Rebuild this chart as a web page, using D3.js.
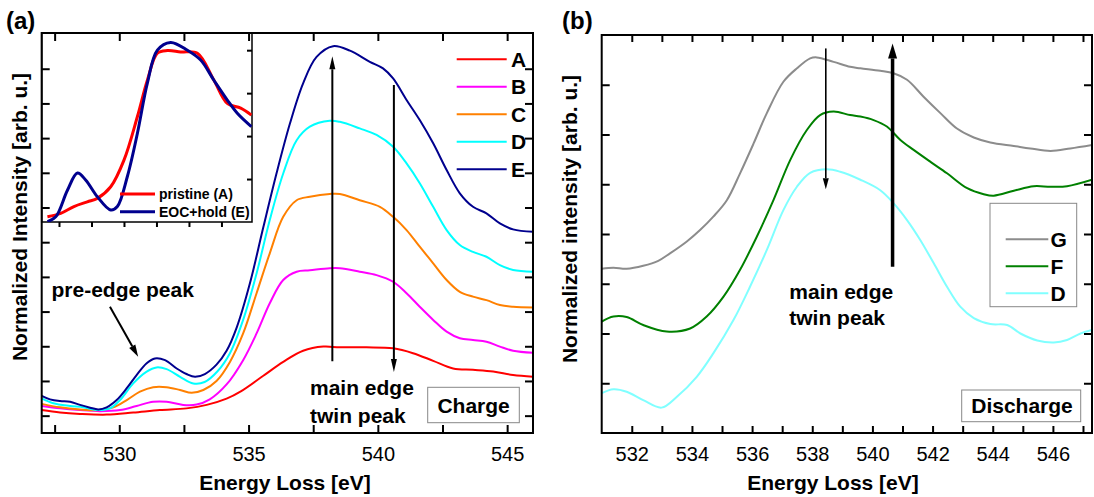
<!DOCTYPE html>
<html>
<head>
<meta charset="utf-8">
<script src="https://cdn.jsdelivr.net/npm/d3@7"></script>
<style>
  body { margin: 0; background: #fff; }
  text { font-family: "Liberation Sans", Arial, sans-serif; }
</style>
</head>
<body>
<svg id="chart" width="1094" height="497"></svg>
<script>
// ---- panel (a): charge series, [energy eV, intensity a.u.] ----
const chargeNames = ["A", "B", "C", "D", "E"];
const chargeColors = ["#ff0000", "#ff00ff", "#ff8000", "#00ffff", "#00008e"];

const curveA = [[527.0,0.66],[527.71,0.59],[528.48,0.55],[529.51,0.53],[530.54,0.59],[531.57,0.66],
  [532.6,0.71],[533.38,0.81],[534.15,0.99],[534.7,1.2],[535.57,1.65],[536.34,2.05],[537.11,2.37],
  [537.89,2.49],[538.53,2.47],[539.56,2.47],[540.59,2.44],[541.36,2.30],[542.14,2.08],[542.91,1.86],
  [543.68,1.82],[544.46,1.77],[545.23,1.67],[546.0,1.62]];
const curveB = [[527.0,0.78],[527.71,0.71],[528.48,0.66],[529.25,0.63],[530.03,0.66],[530.67,0.78],
  [531.31,0.90],[531.83,0.90],[532.47,0.81],[532.99,0.82],[533.5,0.97],[534.15,1.40],[534.79,2.10],
  [535.31,2.87],[535.82,3.74],[536.34,4.41],[536.86,4.65],[537.37,4.69],[538.14,4.75],[538.53,4.75],
  [539.3,4.65],[539.95,4.55],[540.59,4.36],[541.11,4.03],[541.62,3.64],[542.14,3.26],[542.66,2.92],
  [543.17,2.73],[543.68,2.68],[544.2,2.63],[544.72,2.49],[545.23,2.37],[546.0,2.31]];
const curveC = [[527.0,0.84],[527.71,0.74],[528.48,0.68],[529.25,0.66],[529.77,0.74],[530.29,0.95],
  [530.8,1.19],[531.31,1.32],[531.83,1.32],[532.35,1.24],[532.8,1.16],[533.25,1.24],[533.76,1.50],
  [534.28,2.05],[534.79,2.87],[535.31,4.03],[535.82,5.18],[536.34,6.23],[536.86,6.71],[537.37,6.81],
  [538.14,6.89],[538.53,6.89],[539.3,6.71],[540.08,6.52],[540.59,6.23],[541.11,5.85],[541.62,5.37],
  [542.14,4.89],[542.66,4.41],[543.17,4.07],[543.68,3.93],[544.2,3.83],[544.72,3.69],[545.23,3.64],
  [546.0,3.62]];
const curveD = [[527.0,1.00],[527.45,0.86],[528.1,0.78],[528.6,0.74],[529.19,0.66],[529.64,0.71],
  [530.03,0.95],[530.54,1.43],[531.06,1.77],[531.44,1.89],[531.83,1.84],[532.35,1.62],[532.86,1.43],
  [533.3,1.47],[533.8,1.78],[534.28,2.30],[534.79,3.26],[535.31,4.60],[535.82,6.14],[536.34,7.48],
  [536.86,8.44],[537.37,8.83],[538.14,9.0],[538.53,8.97],[539.3,8.78],[539.95,8.59],[540.59,8.25],
  [541.11,7.77],[541.62,7.20],[542.14,6.52],[542.66,5.85],[543.17,5.42],[543.68,5.22],[544.2,5.08],
  [544.72,4.84],[545.23,4.70],[546.0,4.65]];
const curveE = [[527.0,1.07],[527.32,0.97],[527.71,0.92],[528.1,0.90],[528.48,0.81],[528.87,0.73],
  [529.19,0.68],[529.51,0.74],[529.9,0.95],[530.29,1.29],[530.67,1.67],[531.06,2.01],[531.38,2.15],
  [531.77,2.10],[532.22,1.86],[532.6,1.70],[532.93,1.62],[533.31,1.70],[533.76,1.97],[534.15,2.37],
  [534.54,3.04],[535.05,4.31],[535.57,5.93],[536.08,7.48],[536.6,8.92],[537.11,10.08],[537.63,10.84],
  [538.27,11.15],[538.92,11.02],[539.69,10.70],[540.2,10.51],[540.59,10.22],[541.11,9.6],[541.62,9.02],
  [542.14,8.35],[542.66,7.58],[543.17,6.91],[543.68,6.52],[544.2,6.33],[544.72,6.04],[545.23,5.87],
  [546.0,5.80]];
const chargeCurves = [curveA, curveB, curveC, curveD, curveE];

// inset of panel (a)
const insetNames = ["pristine (A)", "EOC+hold (E)"];
const insetColors = ["#ff0000", "#00008e"];
const insetA = [[529.11,0.12],[530.13,0.2],[531.15,0.36],[532.18,0.47],[532.95,0.55],[533.98,0.82],
  [535.0,1.44],[536.03,2.45],[536.8,3.30],[537.57,3.93],[538.34,3.99],[539.36,3.96],[540.65,3.93],
  [541.92,3.30],[542.95,2.76],[543.98,2.65],[544.8,2.49]];
const insetE = [[529.11,0.01],[529.75,0.12],[530.65,0.74],[531.42,1.14],[532.05,0.98],[532.95,0.59],
  [533.98,0.28],[534.49,0.36],[535.26,1.06],[536.03,2.06],[536.8,3.23],[537.57,4.0],[538.59,4.18],
  [539.88,4.0],[540.9,3.77],[541.92,3.30],[542.95,2.84],[543.72,2.53],[544.8,2.22]];
const insetCurves = [insetA, insetE];

// ---- panel (b): discharge series ----
const dischargeNames = ["G", "F", "D"];
const dischargeColors = ["#8c8c8c", "#008000", "#80ffff"];
const curveG = [[531.0,3.30],[531.39,3.32],[531.83,3.30],[532.38,3.36],[532.88,3.46],[533.27,3.61],
  [533.83,3.85],[534.27,4.08],[534.71,4.35],[535.16,4.68],[535.6,5.22],[536.05,5.82],[536.49,6.43],
  [537.04,7.06],[537.49,7.33],[537.93,7.53],[538.15,7.55],[538.71,7.46],[539.26,7.36],[539.6,7.33],
  [540.26,7.28],[540.7,7.23],[541.15,7.10],[541.7,6.76],[542.26,6.43],[542.81,6.12],[543.37,5.94],
  [543.92,5.84],[544.7,5.77],[545.25,5.72],[545.92,5.67],[546.58,5.72],[547.3,5.79]];
const curveF = [[531.0,2.24],[531.39,2.34],[531.83,2.33],[532.38,2.17],[533.16,2.04],[533.94,2.10],
  [534.49,2.34],[535.05,2.74],[535.6,3.28],[536.16,3.95],[536.71,4.68],[537.27,5.49],[537.82,6.09],
  [538.26,6.39],[538.71,6.46],[539.26,6.39],[539.6,6.36],[540.04,6.29],[540.48,6.16],[540.93,5.89],
  [541.37,5.69],[541.93,5.45],[542.48,5.22],[543.15,4.92],[543.7,4.80],[544.03,4.77],[544.7,4.87],
  [545.36,4.96],[545.92,4.95],[546.47,4.96],[547.3,5.09]];
const curveD2 = [[531.0,0.80],[531.39,0.88],[531.83,0.83],[532.38,0.66],[532.99,0.51],[533.5,0.73],
  [534.16,1.13],[534.71,1.60],[535.38,2.27],[535.93,2.94],[536.49,3.68],[537.04,4.48],[537.49,4.95],
  [537.93,5.23],[538.49,5.30],[538.93,5.25],[539.6,5.09],[540.26,4.88],[540.7,4.62],[541.15,4.28],
  [541.59,3.88],[542.04,3.41],[542.48,2.94],[542.92,2.54],[543.37,2.31],[543.92,2.19],[544.48,2.17],
  [544.92,2.00],[545.48,1.86],[546.03,1.82],[546.47,1.87],[546.92,2.00],[547.3,2.07]];
const dischargeCurves = [curveG, curveF, curveD2];

// tick values
const chargeTicksX = d3.range(527.5, 546, 2.5);
const chargeLabelsX = [530, 535, 540, 545];
const chargeTicksY = d3.range(0.5, 11, 1);
const insetTicksX = [530, 532.5, 535, 537.5, 540, 542.5];
const insetTicksY = [1, 2, 3, 4];
const dischargeTicksX = d3.range(532, 548, 1);
const dischargeLabelsX = d3.range(532, 548, 2);
const dischargeTicksY = [1, 2, 3, 4, 5, 6, 7];

const svg = d3.select("#chart");

// scales
const xa = d3.scaleLinear([527, 546], [41.7, 533]);
const ya = d3.scaleLinear([0, 11.53], [433, 33]);
const xi = d3.scaleLinear([528.67, 544.85], [41.7, 252]);
const yi = d3.scaleLinear([0, 4.4], [222, 33]);
const xb = d3.scaleLinear([531, 547.3], [601.7, 1092]);
const yb = d3.scaleLinear([0, 8], [433, 35]);

function clip(id, x, y) {
    svg.append("clipPath").attr("id", id)
        .append("rect")
        .attr("x", x.range()[0]).attr("y", y.range()[1])
        .attr("width", x.range()[1] - x.range()[0])
        .attr("height", y.range()[0] - y.range()[1]);
}
clip("clipA", xa, ya);
clip("clipI", xi, yi);
clip("clipB", xb, yb);

function drawCurves(curves, colors, x, y, clipId, width) {
    const line = d3.line()
        .x(d => x(d[0]))
        .y(d => y(d[1]))
        .curve(d3.curveCatmullRom.alpha(0.5));
    svg.append("g")
        .attr("clip-path", "url(#" + clipId + ")")
        .selectAll("path")
        .data(curves)
        .enter().append("path")
        .attr("d", line)
        .attr("fill", "none")
        .attr("stroke", (d, i) => colors[i])
        .attr("stroke-width", width)
        .attr("stroke-linejoin", "round");
}

function styleAxis(g) {
    g.select(".domain").remove();
    g.selectAll("line").attr("stroke", "#000").attr("stroke-width", 2);
    g.selectAll("text")
        .attr("font-family", '"Liberation Sans", Arial, sans-serif')
        .attr("font-size", 20).attr("fill", "#000");
}

function frameAxes(x, y, ticksX, labelsX, ticksY, len) {
    const bottom = y.range()[0], top = y.range()[1];
    const left = x.range()[0], right = x.range()[1];
    svg.append("g").attr("transform", `translate(0,${bottom})`)
        .call(d3.axisBottom(x).tickValues(ticksX).tickSize(-len).tickPadding(14)
            .tickFormat(v => labelsX.includes(v) ? d3.format("d")(v) : ""))
        .call(styleAxis);
    svg.append("g").attr("transform", `translate(0,${top})`)
        .call(d3.axisTop(x).tickValues(ticksX).tickSize(-len).tickFormat(""))
        .call(styleAxis);
    svg.append("g").attr("transform", `translate(${left},0)`)
        .call(d3.axisLeft(y).tickValues(ticksY).tickSize(-8).tickFormat(""))
        .call(styleAxis);
    svg.append("g").attr("transform", `translate(${right},0)`)
        .call(d3.axisRight(y).tickValues(ticksY).tickSize(-8).tickFormat(""))
        .call(styleAxis);
    svg.append("rect")
        .attr("x", left).attr("y", top)
        .attr("width", right - left).attr("height", bottom - top)
        .attr("fill", "none").attr("stroke", "#000").attr("stroke-width", 2);
}

function arrow(x, y, x0, y0, x1, y1, width, headLen, headW) {
    const px0 = x(x0), py0 = y(y0), px1 = x(x1), py1 = y(y1);
    const ang = Math.atan2(py1 - py0, px1 - px0);
    const bx = px1 - headLen * Math.cos(ang), by = py1 - headLen * Math.sin(ang);
    const nx = -Math.sin(ang) * headW / 2, ny = Math.cos(ang) * headW / 2;
    svg.append("line")
        .attr("x1", px0).attr("y1", py0).attr("x2", bx).attr("y2", by)
        .attr("stroke", "#000").attr("stroke-width", width);
    svg.append("path")
        .attr("d", `M${px1},${py1}L${bx + nx},${by + ny}L${bx - nx},${by - ny}Z`)
        .attr("fill", "#000");
}

function label(x, y, str, size, opts) {
    opts = opts || {};
    const t = svg.append("text")
        .attr("x", x).attr("y", y)
        .attr("font-size", size)
        .attr("font-weight", opts.weight || "bold")
        .attr("text-anchor", opts.anchor || "start")
        .attr("fill", "#000")
        .text(str);
    if (opts.rotate) t.attr("transform", `rotate(-90,${x},${y})`);
    return t;
}

// ---- panel (a) ----
drawCurves(chargeCurves, chargeColors, xa, ya, "clipA", 2);

// inset
svg.append("rect")
    .attr("x", xi.range()[0]).attr("y", yi.range()[1])
    .attr("width", xi.range()[1] - xi.range()[0])
    .attr("height", yi.range()[0] - yi.range()[1])
    .attr("fill", "#fff").attr("stroke", "#000").attr("stroke-width", 1.5);
drawCurves(insetCurves, insetColors, xi, yi, "clipI", 3);
svg.append("g").attr("transform", `translate(0,${yi.range()[0]})`)
    .call(d3.axisBottom(xi).tickValues(insetTicksX).tickSize(5).tickFormat(""))
    .call(styleAxis);
svg.append("g").attr("transform", `translate(${xi.range()[1]},0)`)
    .call(d3.axisRight(yi).tickValues(insetTicksY).tickSize(-5).tickFormat(""))
    .call(styleAxis);
insetNames.forEach((name, i) => {
    const yy = 194 + i * 17.7;
    svg.append("line").attr("x1", 120).attr("x2", 155).attr("y1", yy).attr("y2", yy)
        .attr("stroke", insetColors[i]).attr("stroke-width", 3);
    label(159, yy + 5, name, 14);
});

frameAxes(xa, ya, chargeTicksX, chargeLabelsX, chargeTicksY, 8);

// legend (a)
chargeNames.forEach((name, i) => {
    const yy = 59.3 + i * 27.5;
    svg.append("line").attr("x1", 456.7).attr("x2", 506.7).attr("y1", yy).attr("y2", yy)
        .attr("stroke", chargeColors[i]).attr("stroke-width", 2);
    label(511, yy + 7.5, name, 21);
});

// annotations (a)
arrow(xa, ya, 538.24, 2.07, 538.24, 10.86, 2, 13, 6);
arrow(xa, ya, 540.62, 10.03, 540.62, 1.76, 2, 13, 6);
arrow(xa, ya, 529.64, 3.64, 530.73, 2.2, 2, 12, 7);
label(51.5, 297, "pre-edge peak", 21);
label(310, 395, "main edge", 21);
label(310, 423, "twin peak", 21);
svg.append("rect").attr("x", 427.7).attr("y", 387.3).attr("width", 91.6).attr("height", 35.4)
    .attr("fill", "#fff").attr("stroke", "#888").attr("stroke-width", 1);
label(473.6, 413, "Charge", 21, { anchor: "middle" });

label(6, 29, "(a)", 24);
label(285, 490, "Energy Loss [eV]", 21, { anchor: "middle" });
label(27, 217, "Normalized Intensity [arb. u.]", 21, { anchor: "middle", rotate: true });

// ---- panel (b) ----
drawCurves(dischargeCurves, dischargeColors, xb, yb, "clipB", 2);
frameAxes(xb, yb, dischargeTicksX, dischargeLabelsX, dischargeTicksY, 7);

svg.append("rect").attr("x", 990).attr("y", 203.3).attr("width", 86.7).attr("height", 103.4)
    .attr("fill", "#fff").attr("stroke", "#888").attr("stroke-width", 1);
dischargeNames.forEach((name, i) => {
    const yy = 239.3 + i * 27;
    svg.append("line").attr("x1", 1005.7).attr("x2", 1048.3).attr("y1", yy).attr("y2", yy)
        .attr("stroke", dischargeColors[i]).attr("stroke-width", 2);
    label(1050.5, yy + 7.5, name, 21);
});

arrow(xb, yb, 538.45, 7.73, 538.45, 4.90, 1.6, 11, 6);
arrow(xb, yb, 540.67, 3.34, 540.67, 7.83, 3.5, 15, 9);
label(789.3, 298.5, "main edge", 21);
label(789.3, 325, "twin peak", 21);
svg.append("rect").attr("x", 961.7).attr("y", 390).attr("width", 119).attr("height", 31.7)
    .attr("fill", "#fff").attr("stroke", "#888").attr("stroke-width", 1);
label(1022, 413, "Discharge", 21, { anchor: "middle" });

label(562, 29, "(b)", 24);
label(833, 490, "Energy Loss [eV]", 21, { anchor: "middle" });
label(577, 219, "Normalized intensity [arb. u.]", 21, { anchor: "middle", rotate: true });
</script>
</body>
</html>
